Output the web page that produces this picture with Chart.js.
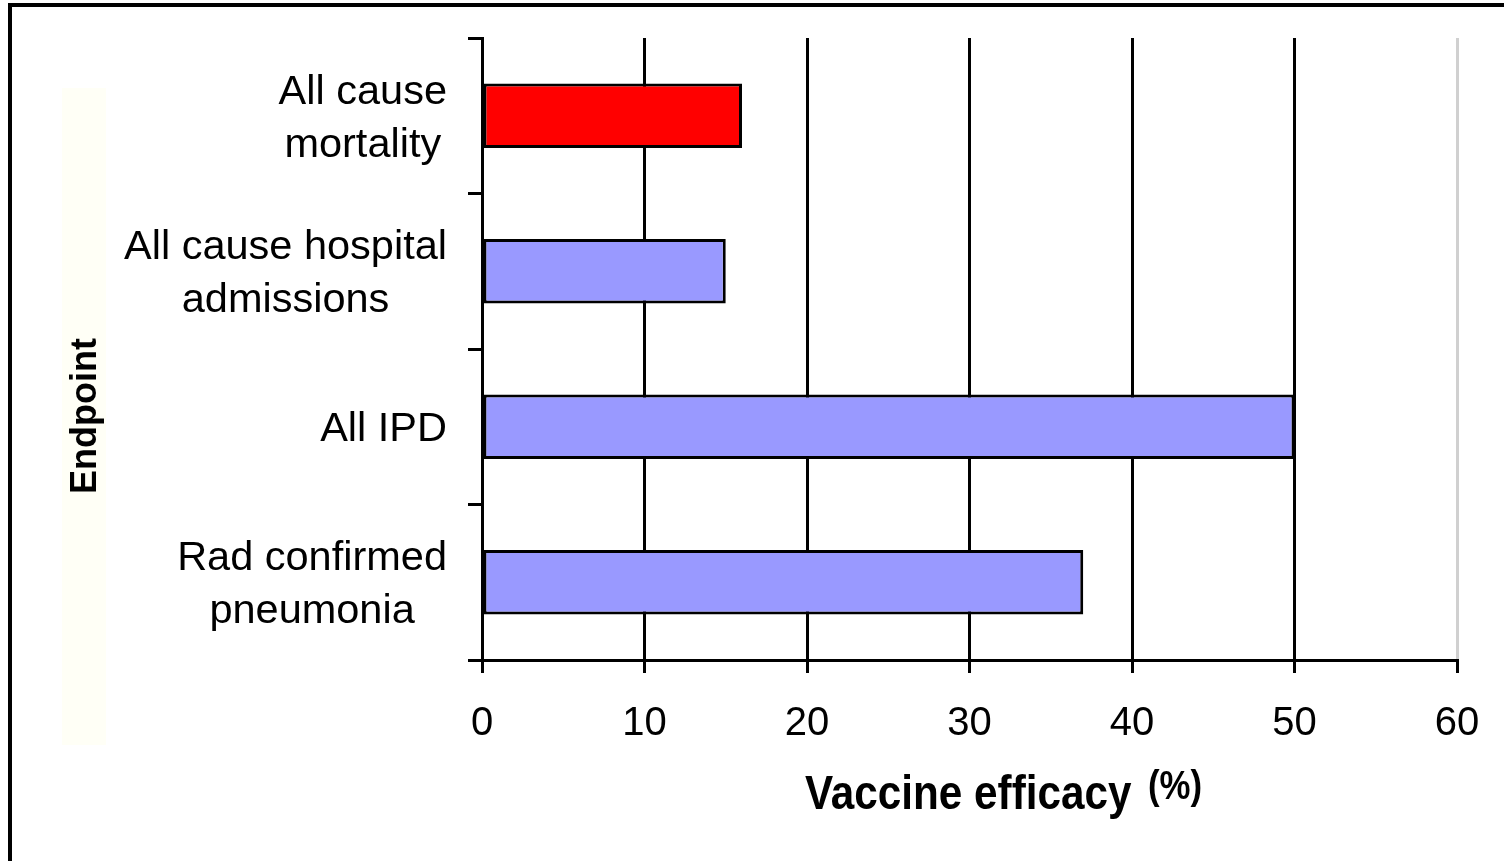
<!DOCTYPE html>
<html>
<head>
<meta charset="utf-8">
<script src="https://cdn.jsdelivr.net/npm/chart.js@4/dist/chart.umd.min.js"></script>
<style>
  html, body { margin: 0; padding: 0; background: #fff; overflow: hidden; }
  #wrap { position: relative; width: 1504px; height: 861px; }
  #frame { position: absolute; left: 8px; top: 3px; width: 1600px; height: 1000px; border: 4px solid #000; box-sizing: border-box; pointer-events: none; }
</style>
</head>
<body>
<div id="wrap">
  <canvas id="myChart" width="1504" height="861"></canvas>
  <div id="frame"></div>
</div>
<script>
const endpoints = [['All cause', 'mortality'], ['All cause hospital', 'admissions'], ['All IPD'], ['Rad confirmed', 'pneumonia']];
const efficacy = [16, 15, 50, 37];
const barColors = ['#FF0000', '#9999FF', '#9999FF', '#9999FF'];
const xTicks = [0, 10, 20, 30, 40, 50, 60];

const FONT = '"Liberation Sans", Arial, sans-serif';

// draws the category labels (right aligned block, centered lines) and the axis titles
const labelPlugin = {
    id: 'labels',
    beforeDraw(chart) {
        const ctx = chart.ctx;
        ctx.save();
        ctx.fillStyle = '#FFFFF6';
        ctx.fillRect(62, 88, 44, 657);
        ctx.restore();
    },
    afterDraw(chart) {
        const ctx = chart.ctx;
        const y = chart.scales.y;
        ctx.save();
        ctx.fillStyle = '#000';
        ctx.font = '41.5px ' + FONT;
        ctx.textBaseline = 'middle';
        ctx.textAlign = 'center';
        endpoints.forEach((lines, i) => {
            const cy = y.getPixelForValue(i) + 3;
            const w = Math.max(...lines.map(l => ctx.measureText(l).width));
            const cx = y.right - 35 - w / 2;
            lines.forEach((l, j) => {
                ctx.fillText(l, cx, cy + (j - (lines.length - 1) / 2) * 53);
            });
        });

        // x title
        ctx.textAlign = 'left';
        ctx.textBaseline = 'alphabetic';
        ctx.save();
        ctx.translate(805, 809);
        ctx.scale(0.88, 1);
        ctx.font = 'bold 48px ' + FONT;
        ctx.fillText('Vaccine efficacy', 0, 0);
        ctx.restore();
        ctx.save();
        ctx.translate(1148, 799);
        ctx.scale(0.87, 1);
        ctx.font = 'bold 40px ' + FONT;
        ctx.fillText('(%)', 0, 0);
        ctx.restore();

        // y title
        ctx.save();
        ctx.translate(86, 416);
        ctx.rotate(-Math.PI / 2);
        ctx.textAlign = 'center';
        ctx.textBaseline = 'middle';
        ctx.font = 'bold 36px ' + FONT;
        ctx.fillText('Endpoint', 0, 0);
        ctx.restore();
        ctx.restore();
    }
};

const ctx = document.getElementById('myChart');

new Chart(ctx, {
    type: 'bar',
    data: {
        labels: endpoints,
        datasets: [{
            data: efficacy,
            backgroundColor: barColors,
            borderColor: '#000',
            borderWidth: 3,
            borderSkipped: false,
            categoryPercentage: 0.8,
            barPercentage: 0.52,
        }]
    },
    options: {
        indexAxis: 'y',
        responsive: false,
        animation: false,
        layout: {
            padding: { left: 0, right: 47, top: 38, bottom: 0 }
        },
        plugins: {
            legend: { display: false },
            tooltip: { enabled: false },
        },
        scales: {
            x: {
                type: 'linear',
                min: 0,
                max: 60,
                afterBuildTicks: s => { s.ticks = xTicks.map(v => ({ value: v })); },
                afterFit: s => {
                    s.height = 861 - 660;
                    s.paddingLeft = 0;
                    s.paddingRight = 0;
                },
                border: { display: true, color: '#000', width: 3 },
                grid: {
                    color: c => (c.tick && c.tick.value === 60) ? '#D0D0D0' : '#000',
                    tickColor: '#000',
                    lineWidth: 3,
                    tickLength: 13,
                    drawTicks: true,
                },
                ticks: {
                    color: '#000',
                    font: { family: FONT, size: 40 },
                    padding: 27,
                    maxRotation: 0,
                }
            },
            y: {
                afterFit: s => { s.width = 482; },
                border: { display: true, color: '#000', width: 3 },
                grid: {
                    drawOnChartArea: false,
                    drawTicks: true,
                    tickLength: 14,
                    color: '#000',
                    lineWidth: 3,
                },
                ticks: { display: false }
            }
        }
    },
    plugins: [labelPlugin]
});
</script>
</body>
</html>
